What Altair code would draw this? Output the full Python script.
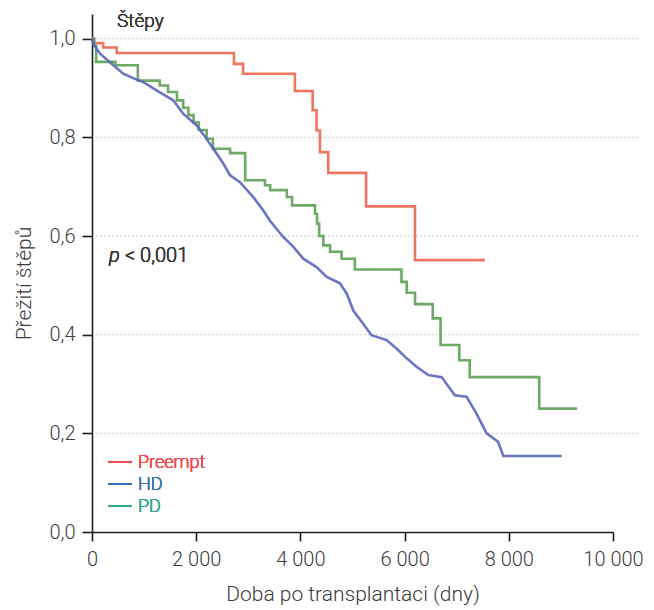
import altair as alt
import pandas as pd

# ---- data ----
series_names = ["Preempt", "HD", "PD"]

preempt_t = [0, 40, 215, 475, 2725, 2900, 3895, 4235, 4310, 4375, 4535, 5260, 6200, 7540]
preempt_s = [1.0, 0.991, 0.982, 0.971, 0.949, 0.929, 0.894, 0.855, 0.814, 0.770, 0.728, 0.660, 0.551, 0.551]

hd_t = [0, 25, 150, 280, 410, 600, 790, 985, 1240, 1400, 1560, 1750, 2010, 2170, 2330, 2520, 2650, 2840,
        3095, 3285, 3415, 3670, 3865, 4055, 4310, 4505, 4760, 4890, 5015, 5205, 5365, 5655, 5845, 6040,
        6230, 6455, 6710, 6965, 7190, 7380, 7575, 7795, 7895, 9015]
hd_s = [1.0, 0.99, 0.970, 0.958, 0.946, 0.929, 0.920, 0.912, 0.895, 0.885, 0.875, 0.848, 0.824, 0.801,
        0.777, 0.747, 0.723, 0.709, 0.679, 0.652, 0.631, 0.598, 0.578, 0.554, 0.537, 0.517, 0.504, 0.483,
        0.449, 0.422, 0.399, 0.389, 0.372, 0.352, 0.335, 0.318, 0.314, 0.277, 0.274, 0.240, 0.200, 0.183,
        0.154, 0.154]

pd_t = [0, 40, 80, 450, 880, 1300, 1460, 1630, 1750, 1850, 1950, 2050, 2200, 2320, 2650, 2940, 3320,
        3420, 3740, 3840, 4280, 4320, 4360, 4440, 4570, 4790, 5045, 5940, 6040, 6200, 6540, 6690, 7050,
        7250, 8585, 9310]
pd_s = [1.0, 0.985, 0.953, 0.946, 0.915, 0.905, 0.892, 0.875, 0.86, 0.845, 0.83, 0.815, 0.797, 0.777,
        0.768, 0.713, 0.703, 0.693, 0.679, 0.662, 0.645, 0.625, 0.60, 0.581, 0.568, 0.554, 0.532, 0.507,
        0.485, 0.462, 0.433, 0.379, 0.348, 0.314, 0.250, 0.250]

x_ticks = [0, 2000, 4000, 6000, 8000, 10000]
y_ticks = [0.0, 0.2, 0.4, 0.6, 0.8, 1.0]
grid_values = [0.2, 0.4, 0.6, 0.8, 1.0]

panel_title = "Štěpy"
p_label_italic = "p"
p_label_rest = "< 0,001"
x_title = "Doba po transplantaci (dny)"
y_title = "Přežití štěpů"

# ---- styling ----
FONT = "Roboto"
TXT = "#3a3a3a"
line_colors = {"Preempt": "#f0654e", "HD": "#5b66bb", "PD": "#5ca154"}
legend_colors = {"Preempt": "#ef4b4f", "HD": "#3d70b2", "PD": "#2fa98a"}

W, H = 521, 518

rows = []
for name, ts, ss in zip(series_names, [preempt_t, hd_t, pd_t], [preempt_s, hd_s, pd_s]):
    for t, s in zip(ts, ss):
        rows.append({"serie": name, "t": t, "s": s})
df = pd.DataFrame(rows)

x_scale = alt.Scale(domain=[0, 10000], nice=False)
y_scale = alt.Scale(domain=[0, 1.05], nice=False)

x_axis = alt.Axis(
    values=x_ticks,
    labelExpr="replace(format(datum.value, ','), ',', ' ')",
    title=x_title, grid=False, tickSize=9, labelPadding=8, labelFlush=False,
    titleY=68, titleBaseline="alphabetic",
)
y_axis = alt.Axis(
    values=y_ticks,
    labelExpr="replace(format(datum.value, '.1f'), '.', ',')",
    title=y_title, grid=False, tickSize=10, labelPadding=7, labelFlush=False,
    titleX=-62, titleY=269, titleBaseline="alphabetic", titleAlign="center", titleAngle=270,
)

grid_df = pd.DataFrame({"s": grid_values})
grid = alt.Chart(grid_df).mark_rule(color="#c9c9c9", strokeDash=[2, 2], strokeWidth=1).encode(
    y=alt.Y("s:Q", scale=y_scale, axis=y_axis),
    x=alt.value(4), x2=alt.value(548),
)

def curve(name, interp):
    return alt.Chart(df[df["serie"] == name]).mark_line(
        interpolate=interp, strokeWidth=2.6, color=line_colors[name], opacity=0.9, strokeJoin="miter"
    ).encode(
        x=alt.X("t:Q", scale=x_scale, axis=x_axis),
        y=alt.Y("s:Q", scale=y_scale, axis=y_axis),
        order="t:Q",
    )

lines = [curve("Preempt", "step-after"), curve("PD", "step-after"), curve("HD", "linear")]

# legend (manual, coloured labels)
leg_layers = []
for i, name in enumerate(series_names):
    yy = 448 + 22 * i
    leg_layers.append(
        alt.Chart(grid_df).mark_rule(color=legend_colors[name], strokeWidth=1.6).encode(
            x=alt.value(16), x2=alt.value(40), y=alt.value(yy))
    )
    leg_layers.append(
        alt.Chart(grid_df).mark_text(align="left", baseline="middle", font=FONT, fontSize=18,
                                     fontWeight=300, color=legend_colors[name]).encode(
            x=alt.value(46), y=alt.value(yy + 1), text=alt.value(name))
    )

title_txt = alt.Chart(grid_df).mark_text(align="left", baseline="alphabetic", font=FONT, fontSize=19,
                                         fontWeight=300, color=TXT).encode(
    x=alt.value(25), y=alt.value(13), text=alt.value(panel_title))
p_txt = alt.Chart(grid_df).mark_text(align="left", baseline="alphabetic", font=FONT, fontSize=20,
                                     fontWeight=300, fontStyle="italic", color=TXT).encode(
    x=alt.value(17), y=alt.value(248), text=alt.value(p_label_italic))
p_txt2 = alt.Chart(grid_df).mark_text(align="left", baseline="alphabetic", font=FONT, fontSize=20,
                                      fontWeight=300, color=TXT).encode(
    x=alt.value(33), y=alt.value(248), text=alt.value(p_label_rest))

chart = alt.layer(grid, *lines, *leg_layers, title_txt, p_txt, p_txt2).properties(
    width=W, height=H,
    padding={"left": 84, "top": 6, "right": 30, "bottom": 76},
    autosize=alt.AutoSizeParams(type="none"),
).configure_view(stroke=None).configure_axis(
    domainColor="#1e1e1e", domainWidth=1.6, tickColor="#1e1e1e", tickWidth=1.6,
    labelFont=FONT, labelFontSize=20, labelFontWeight=300, labelColor=TXT,
    titleFont=FONT, titleFontSize=21, titleFontWeight=300, titleColor=TXT,
)

chart.save("out.html", embed_options={"renderer": "svg", "actions": False})
